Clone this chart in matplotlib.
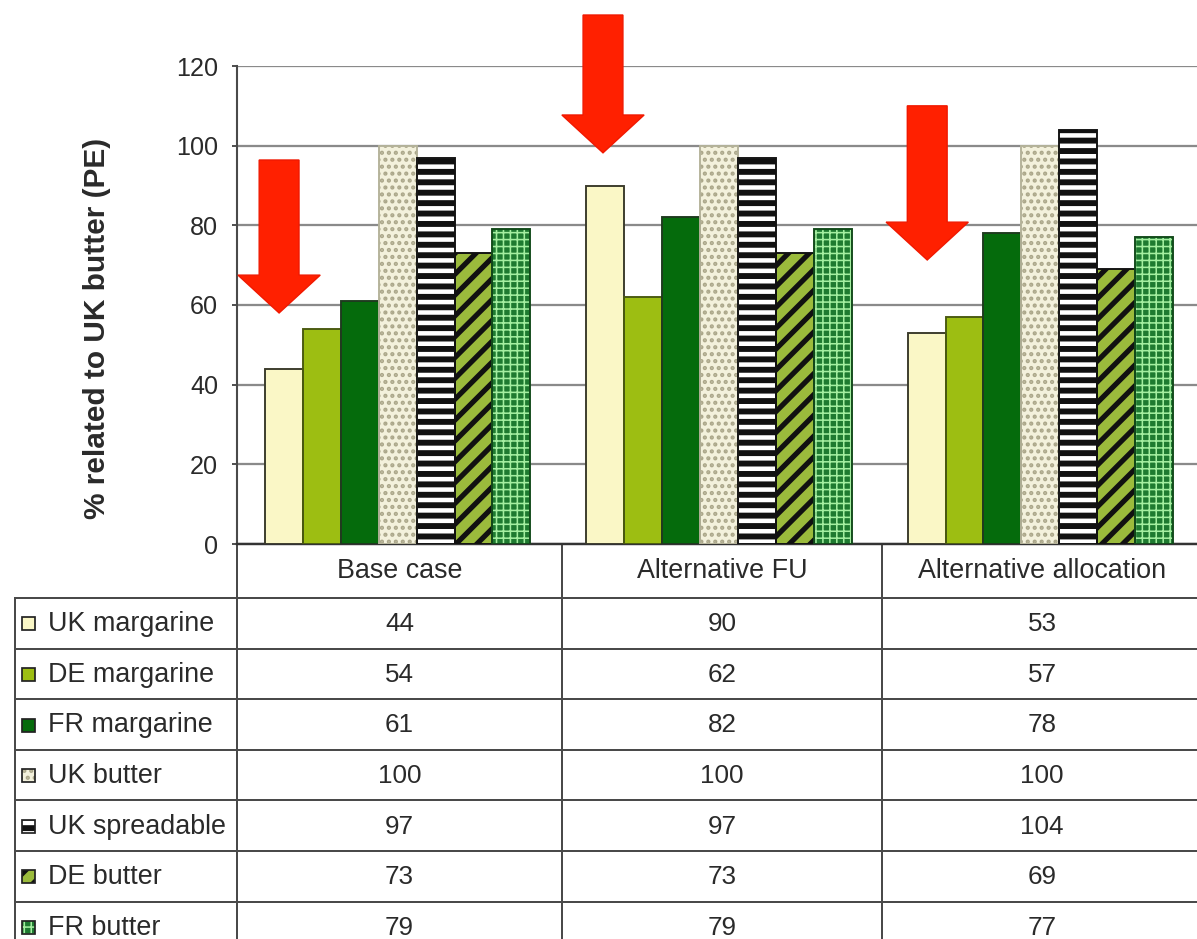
import numpy as np
import matplotlib as mpl
mpl.use('Agg')
import matplotlib.pyplot as plt
from matplotlib.patches import Polygon, Rectangle

# Primary energy of spreads, relative to UK butter (%)
cases = ['Base case', 'Alternative FU', 'Alternative allocation']
products = ['UK margarine', 'DE margarine', 'FR margarine', 'UK butter',
            'UK spreadable', 'DE butter', 'FR butter']
uk_margarine = [44, 90, 53]
de_margarine = [54, 62, 57]
fr_margarine = [61, 82, 78]
uk_butter = [100, 100, 100]
uk_spreadable = [97, 97, 104]
de_butter = [73, 73, 69]
fr_butter = [79, 79, 77]
series = [uk_margarine, de_margarine, fr_margarine, uk_butter,
          uk_spreadable, de_butter, fr_butter]
yticks = [0, 20, 40, 60, 80, 100, 120]

# face, hatch colour, hatch, hatch linewidth (pt), outline colour
styles = [
    ('#FAF7C6', None, None, 1.0, '#3A3A2A'),
    ('#9DBE12', None, None, 1.0, '#4A5A10'),
    ('#056B0C', None, None, 1.0, '#1F3A1F'),
    ('#F3F1DC', '#ABA78A', '...', 1.6, '#B5B39A'),
    ('#FFFFFF', '#111111', '--', 3.4, '#111111'),
    ('#9BBB3C', '#111111', '//', 3.0, '#111111'),
    ('#1E7A30', '#A4EEA0', '+++', 0.9, '#124A1A'),
]

# down arrows: centre x, top, head base, tip (data units)
arrows = [(-0.369, 96.4, 67.5, 58.0),
          (0.639, 132.8, 107.7, 98.2),
          (1.648, 110.0, 80.8, 71.3)]

W, H, DPI = 1197, 939, 125
plt.rcParams['font.family'] = ['Liberation Sans', 'DejaVu Sans']
TXT = '#2A2A2A'
LINE = '#4A4A4A'

fig = plt.figure(figsize=(W / DPI, H / DPI), dpi=DPI)

# pixel-space overlay for the data table
over = fig.add_axes([0, 0, 1, 1], zorder=0)
over.set_xlim(0, W)
over.set_ylim(H, 0)
over.axis('off')

ax_left, ax_right, ax_top, ax_bot = 237, 1201, 66, 544
ax = fig.add_axes([ax_left / W, 1 - ax_bot / H, (ax_right - ax_left) / W,
                   (ax_bot - ax_top) / H], zorder=1)


def fill_style(p, st):
    fc, hc, hatch, hlw, _ = st
    p.set_facecolor(fc)
    p.set_linewidth(0)
    if hatch:
        p.set_edgecolor(hc)
        p.set_hatch(hatch)
        if hasattr(p, 'set_hatch_linewidth'):
            p.set_hatch_linewidth(hlw)


x = np.arange(len(cases))
w = 0.118
for i, (vals, st) in enumerate(zip(series, styles)):
    pos = x + (i - 3) * w
    with plt.rc_context({'hatch.linewidth': st[3]}):
        bars = ax.bar(pos, vals, w, zorder=3)
    for b in bars:
        fill_style(b, st)
    # outline drawn separately so hatch and border colours can differ
    ax.bar(pos, vals, w, fill=False, edgecolor=st[4], linewidth=1.1, zorder=4)

ax.set_xlim(-0.5, 2.5)
ax.set_ylim(0, 120)
ax.set_yticks(yticks)
ax.set_xticks([])
ax.yaxis.grid(True, color='#8A8A8A', linewidth=1.3, zorder=0)
ax.set_axisbelow(True)
for s in ['top', 'right']:
    ax.spines[s].set_visible(False)
ax.spines['left'].set_color(LINE)
ax.spines['left'].set_linewidth(1.2)
ax.spines['bottom'].set_color('#333333')
ax.spines['bottom'].set_linewidth(1.4)
ax.tick_params(axis='y', direction='out', length=3, width=1.1, color=LINE,
               pad=8, labelsize=14.5, labelcolor=TXT)
ax.set_ylabel('% related to UK butter (PE)', fontsize=17.2, fontweight='bold',
              color=TXT)
ax.yaxis.set_label_coords(-0.131, 0.45)

for cx, top, base, tip in arrows:
    sw, hw = 0.062, 0.128
    pts = [(cx - sw, top), (cx + sw, top), (cx + sw, base), (cx + hw, base),
           (cx, tip), (cx - hw, base), (cx - sw, base)]
    ax.add_patch(Polygon(pts, closed=True, facecolor='#FF2000',
                         edgecolor='#F01800', linewidth=0.8, zorder=5,
                         clip_on=False))

# table grid
row_h = 50.6
col_edges = [ax_left, 562, 882]
row_lines = [598 + row_h * k for k in range(7)]
lw = 1.15
for cx in col_edges:
    over.plot([cx, cx], [ax_bot, H + 5], color=LINE, lw=lw)
over.plot([15, 15], [row_lines[0], H + 5], color=LINE, lw=lw)
for ry in row_lines:
    over.plot([15, W + 5], [ry, ry], color=LINE, lw=lw)

col_centres = [(562 + ax_left) / 2, (562 + 882) / 2, (882 + 1202) / 2]
for cx, name in zip(col_centres, cases):
    over.text(cx, 571, name, ha='center', va='center', fontsize=15.5,
              color=TXT)

for r, (name, vals, st) in enumerate(zip(products, series, styles)):
    cy = row_lines[r] + row_h / 2 + 1
    sq = Rectangle((22, cy - 7), 13, 13)
    fill_style(sq, st)
    over.add_patch(sq)
    over.add_patch(Rectangle((22, cy - 7), 13, 13, fill=False,
                             edgecolor='#222222', linewidth=1.0))
    over.text(48, cy, name, ha='left', va='center', fontsize=15.5, color=TXT)
    for cx, v in zip(col_centres, vals):
        over.text(cx, cy, str(v), ha='center', va='center', fontsize=15,
                  color=TXT)

fig.savefig('out.png', dpi=DPI)
